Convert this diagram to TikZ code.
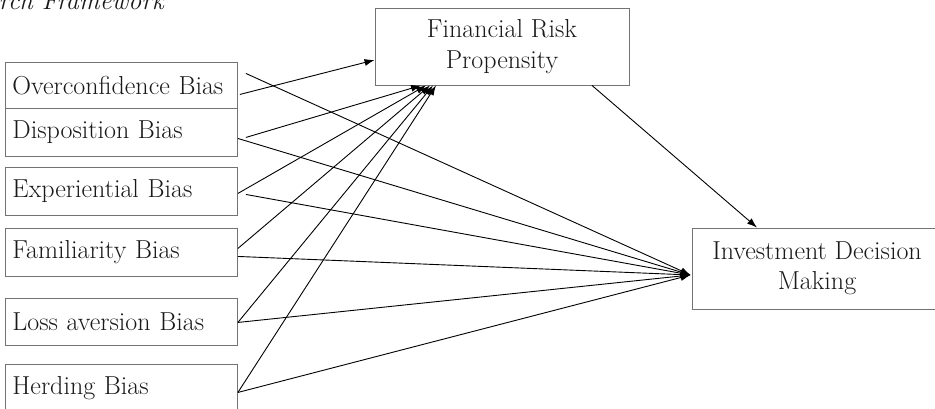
\documentclass[tikz,border=0pt]{standalone}
\usetikzlibrary{arrows.meta}
\begin{document}
\begin{tikzpicture}[x=1pt,y=-1pt,
  box/.style={draw=black!55, line width=0.9pt, rectangle, inner sep=0pt, font=\fontsize{26}{30.5}\selectfont, text=black!90},
  lbox/.style={box, anchor=north west, minimum width=232pt, text width=218pt, inner xsep=7pt, align=left},
  cbox/.style={box, align=center},
  arr/.style={-{Latex[length=10pt,width=7pt]}, line width=0.9pt, black}
]
\useasboundingbox (0,0) rectangle (935,409);
\clip (0,0) rectangle (935,409);

\node[font=\fontsize{26}{30}\itshape, anchor=base east, inner sep=0pt, text=black!90] (title) at (164,10) {Research Framework};

\node[lbox, minimum height=46pt] (ob) at (5,62) {Overconfidence Bias};
\node[lbox, minimum height=48pt] (db) at (5,108) {Disposition Bias};
\node[lbox, minimum height=48pt] (eb) at (5,167) {Experiential Bias};
\node[lbox, minimum height=48pt] (fb) at (5,228) {Familiarity Bias};
\node[lbox, minimum height=47pt] (lb) at (5,298) {Loss aversion Bias};
\node[lbox, minimum height=48pt] (hb) at (5,364) {Herding Bias};

\node[cbox, minimum width=254pt, minimum height=77pt] (frp) at (502,46.5) {Financial Risk\\Propensity};
\node[cbox, minimum width=250pt, minimum height=81pt] (idm) at (817,268.5) {Investment Decision\\Making};

\draw[arr] ([shift={(2,9)}]ob.east) -- ([shift={(0,13.5)}]frp.west);
\draw[arr] ([shift={(8,-12)}]ob.east) -- ([shift={(-1,6.5)}]idm.west);
\draw[arr] ([shift={(8,5)}]db.east) -- ([shift={(-81,0)}]frp.south);
\draw[arr] ([shift={(0,6)}]db.east) -- ([shift={(-1,6.5)}]idm.west);
\draw[arr] ([shift={(0,2)}]eb.east) -- ([shift={(-76,0)}]frp.south);
\draw[arr] ([shift={(8,3)}]eb.east) -- ([shift={(-1,6.5)}]idm.west);
\draw[arr] ([shift={(0,-4)}]fb.east) -- ([shift={(-72,0)}]frp.south);
\draw[arr] ([shift={(0,4)}]fb.east) -- ([shift={(-1,6.5)}]idm.west);
\draw[arr] ([shift={(0,0.5)}]lb.east) -- ([shift={(-69,0)}]frp.south);
\draw[arr] ([shift={(0,0.5)}]lb.east) -- ([shift={(-1,6.5)}]idm.west);
\draw[arr] ([shift={(0,4)}]hb.east) -- ([shift={(-66,0)}]frp.south);
\draw[arr] ([shift={(0,4)}]hb.east) -- ([shift={(-1,6.5)}]idm.west);
\draw[arr] ([shift={(90,0)}]frp.south) -- ([shift={(-60,0)}]idm.north);
\end{tikzpicture}
\end{document}
